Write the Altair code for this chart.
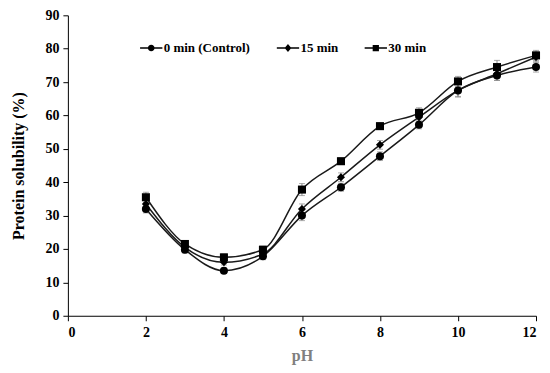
import altair as alt
import pandas as pd

ph = [2, 3, 4, 5, 6, 7, 8, 9, 10, 11, 12]
series_names = ["0 min (Control)", "15 min", "30 min"]
control = [32.0, 19.8, 13.5, 17.8, 30.0, 38.5, 47.8, 57.2, 67.5, 72.0, 74.5]
min15 = [33.5, 20.5, 16.0, 18.5, 32.0, 41.5, 51.2, 59.5, 67.5, 72.5, 77.5]
min30 = [35.5, 21.5, 17.5, 19.8, 37.8, 46.3, 56.8, 60.8, 70.2, 74.5, 78.0]
err_control = [1.2, 1.0, 0.8, 1.0, 1.5, 1.2, 1.3, 1.2, 1.8, 1.5, 1.5]
err_15 = [1.2, 1.0, 0.8, 1.0, 1.5, 1.3, 1.3, 1.5, 2.0, 2.0, 1.5]
err_30 = [1.5, 1.0, 1.0, 1.0, 1.8, 1.0, 1.0, 1.5, 1.5, 2.0, 1.5]

rows = []
for name, vals, errs in zip(series_names, [control, min15, min30], [err_control, err_15, err_30]):
    for p, v, e in zip(ph, vals, errs):
        rows.append({"pH": p, "sol": v, "lo": v - e, "hi": v + e, "series": name})
df = pd.DataFrame(rows)

serif = "Liberation Serif"
base = alt.Chart(df)

xscale = alt.Scale(domain=[0, 12], nice=False)
yscale = alt.Scale(domain=[0, 90], nice=False)
xaxis = alt.Axis(values=list(range(0, 13, 2)), title="pH")
yaxis = alt.Axis(values=list(range(0, 91, 10)), title="Protein solubility (%)", labelOverlap=False)


def X(field="pH"):
    return alt.X(f"{field}:Q", scale=xscale, axis=xaxis)


def Y(field):
    return alt.Y(f"{field}:Q", scale=yscale, axis=yaxis)


lines = base.mark_line(interpolate="monotone", color="#1a1a1a", strokeWidth=1.5).encode(
    x=X(), y=Y("sol"), detail="series:N")

err_rules = base.mark_rule(color="#888888", strokeWidth=1).encode(
    x=X(), y=Y("lo"), y2="hi:Q")
err_lo = base.mark_tick(color="#888888", size=6, thickness=1, orient="horizontal").encode(
    x=X(), y=Y("lo"))
err_hi = base.mark_tick(color="#888888", size=6, thickness=1, orient="horizontal").encode(
    x=X(), y=Y("hi"))

points = base.mark_point(filled=True, color="#000000", opacity=1, size=65).encode(
    x=X(), y=Y("sol"),
    shape=alt.Shape("series:N",
                    scale=alt.Scale(domain=series_names, range=["circle", "diamond", "square"]),
                    legend=None))

bar = "M-1,-0.06H1V0.06H-1Z"
legend_paths = [
    bar + "M-0.3,0A0.3,0.3,0,1,1,0.3,0A0.3,0.3,0,1,1,-0.3,0Z",
    bar + "M0,-0.36L0.3,0L0,0.36L-0.3,0Z",
    bar + "M-0.28,-0.28H0.28V0.28H-0.28Z",
]
legend_layer = base.mark_point(filled=True, color="#000000", opacity=0, size=500).encode(
    x=X(), y=Y("sol"),
    shape=alt.Shape("series:N",
                    scale=alt.Scale(domain=series_names, range=legend_paths),
                    legend=alt.Legend(title=None, orient="none", direction="horizontal",
                                      legendX=72, legendY=21, symbolSize=500, symbolOpacity=1,
                                      symbolFillColor="#000000", symbolStrokeWidth=0,
                                      labelFont=serif, labelFontSize=13, labelFontWeight="bold",
                                      labelColor="#000000", columnPadding=26, labelOffset=1)))

chart = alt.layer(lines, err_rules, err_lo, err_hi, points, legend_layer).resolve_scale(
    shape="independent"
).properties(
    width=469, height=301,
    autosize=alt.AutoSizeParams(type="none"),
    padding={"left": 60, "top": 7, "right": 6, "bottom": 50},
).configure_view(stroke=None).configure_axis(
    grid=False, domainColor="#000000", tickColor="#000000", domainWidth=1, tickWidth=1,
    labelFont=serif, labelFontSize=14, labelFontWeight="bold", labelColor="#000000",
    titleFont=serif, titleFontWeight="bold",
).configure_axisX(
    titleColor="#808080", titleFontSize=16, titlePadding=8, labelPadding=5, tickSize=5,
).configure_axisY(
    titleColor="#000000", titleFontSize=16, titlePadding=18, labelPadding=4, tickSize=5,
)

chart.save("out.html", embed_options={"renderer": "svg", "actions": False})
